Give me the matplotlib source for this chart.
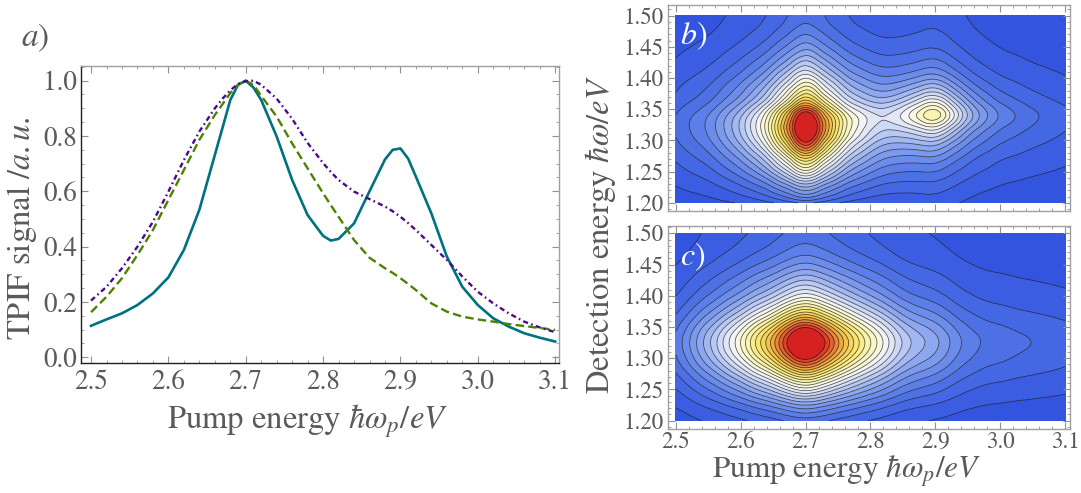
import numpy as np
import matplotlib
matplotlib.use("Agg")
import matplotlib.pyplot as plt
import matplotlib.tri as mtri
from matplotlib.colors import LinearSegmentedColormap
from matplotlib.ticker import MultipleLocator

plt.rcParams['font.family'] = ['STIXGeneral', 'DejaVu Serif']
plt.rcParams['mathtext.fontset'] = 'stix'

# ---------------- panel a: TPIF spectra ----------------
pump = [2.50, 2.52, 2.54, 2.56, 2.58, 2.60, 2.62, 2.64, 2.66, 2.67, 2.68, 2.69,
        2.70, 2.71, 2.72, 2.74, 2.76, 2.78, 2.80, 2.81, 2.82, 2.84, 2.86, 2.88,
        2.89, 2.90, 2.91, 2.92, 2.94, 2.96, 2.98, 3.00, 3.02, 3.04, 3.06, 3.08, 3.10]
tpif_solid = [0.114, 0.137, 0.159, 0.189, 0.231, 0.289, 0.388, 0.533, 0.731, 0.830, 0.930, 0.985,
              1.000, 0.975, 0.930, 0.798, 0.641, 0.514, 0.439, 0.422, 0.428, 0.484, 0.600, 0.715,
              0.750, 0.755, 0.718, 0.653, 0.520, 0.364, 0.255, 0.189, 0.141, 0.111, 0.087, 0.071, 0.057]
tpif_dashed = [0.163, 0.219, 0.286, 0.370, 0.460, 0.569, 0.677, 0.786, 0.876, 0.915, 0.955, 0.985,
               1.000, 0.985, 0.945, 0.870, 0.773, 0.683, 0.593, 0.550, 0.508, 0.424, 0.360, 0.322,
               0.305, 0.286, 0.265, 0.243, 0.195, 0.165, 0.147, 0.137, 0.129, 0.120, 0.113, 0.106, 0.099]
tpif_dashdot = [0.205, 0.255, 0.322, 0.400, 0.490, 0.599, 0.713, 0.816, 0.900, 0.935, 0.965, 0.988,
                0.998, 1.000, 0.985, 0.935, 0.862, 0.775, 0.702, 0.670, 0.641, 0.599, 0.572, 0.545,
                0.528, 0.508, 0.485, 0.460, 0.406, 0.352, 0.292, 0.237, 0.195, 0.159, 0.129, 0.108, 0.091]

# ---------------- panels b, c: 2D maps (slices) ----------------
map_pump = [2.50, 2.52, 2.54, 2.56, 2.58, 2.60, 2.62, 2.64, 2.66, 2.68, 2.70, 2.72,
            2.74, 2.76, 2.78, 2.80, 2.82, 2.84, 2.86, 2.88, 2.90, 2.92, 2.94, 2.96,
            2.98, 3.00, 3.02, 3.04, 3.06, 3.08, 3.10]
map_det = [1.20, 1.22, 1.24, 1.26, 1.28, 1.30, 1.32, 1.34, 1.36, 1.38, 1.40, 1.42,
           1.44, 1.46, 1.48, 1.50]

# panel b: main peak (2.70 eV) and second peak (2.90 eV)
b_pump_main = [0.12, 0.15, 0.18, 0.225, 0.285, 0.355, 0.445, 0.56, 0.72, 0.90, 1.03, 0.90,
               0.72, 0.56, 0.445, 0.36, 0.29, 0.24, 0.20, 0.17, 0.15, 0.13, 0.115, 0.10,
               0.09, 0.08, 0.075, 0.07, 0.065, 0.06, 0.055]
b_det_main = [0.120, 0.270, 0.430, 0.600, 0.770, 0.930, 1.000, 0.930, 0.740, 0.600, 0.485, 0.375,
              0.285, 0.215, 0.165, 0.140]
b_pump_sec = [0.010, 0.012, 0.014, 0.016, 0.019, 0.022, 0.026, 0.030, 0.035, 0.040, 0.046, 0.054,
              0.065, 0.080, 0.100, 0.125, 0.170, 0.245, 0.340, 0.440, 0.490, 0.420, 0.310, 0.220,
              0.160, 0.120, 0.095, 0.075, 0.060, 0.050, 0.040]
b_det_sec = [0.08, 0.10, 0.14, 0.20, 0.30, 0.46, 0.72, 0.99, 0.85, 0.60, 0.40, 0.27,
             0.19, 0.14, 0.11, 0.09]

# panel c: single peak
c_pump = [0.17, 0.235, 0.31, 0.385, 0.47, 0.56, 0.665, 0.765, 0.885, 1.01, 1.07, 1.01,
          0.90, 0.79, 0.69, 0.60, 0.515, 0.43, 0.365, 0.325, 0.29, 0.245, 0.20, 0.17,
          0.15, 0.14, 0.13, 0.122, 0.115, 0.108, 0.10]
c_det = [0.13, 0.23, 0.38, 0.55, 0.74, 0.91, 1.00, 0.96, 0.80, 0.62, 0.47, 0.36,
         0.27, 0.20, 0.155, 0.13]

# ---------------- styling ----------------
GRAY_TXT = '#5a5a5a'
TEAL = '#00717e'
GREEN = '#4b8200'
PURPLE = '#4a0a8a'

temp_cmap = LinearSegmentedColormap.from_list('tempmap', [
    (0.00, (0.18, 0.31, 0.87)),
    (0.15, (0.31, 0.45, 0.90)),
    (0.30, (0.54, 0.65, 0.94)),
    (0.42, (0.79, 0.84, 0.97)),
    (0.52, (0.97, 0.97, 0.97)),
    (0.62, (0.98, 0.96, 0.72)),
    (0.72, (0.97, 0.90, 0.42)),
    (0.82, (0.94, 0.72, 0.26)),
    (0.90, (0.90, 0.46, 0.20)),
    (1.00, (0.84, 0.13, 0.13)),
])

W, H = 1081, 493
fig = plt.figure(figsize=(W / 100, H / 100), dpi=100)


def frac_rect(x0, y0, x1, y1):
    return [x0 / W, 1 - y1 / H, (x1 - x0) / W, (y1 - y0) / H]


def style_frame(ax, dark_lb=False):
    for side in ['top', 'right', 'left', 'bottom']:
        ax.spines[side].set_color('#a0a0a0')
        ax.spines[side].set_linewidth(1.0)
    if dark_lb:
        ax.spines['left'].set_color('#202020')
        ax.spines['bottom'].set_color('#202020')
    ax.tick_params(which='both', direction='in', top=True, right=True,
                   color='#909090', labelcolor=GRAY_TXT)
    ax.tick_params(which='major', length=5, width=0.8)
    ax.tick_params(which='minor', length=2.5, width=0.6)


# ---------------- panel a ----------------
ax_a = fig.add_axes(frac_rect(81, 66, 559, 362.7))
ax_a.plot(pump, tpif_solid, color=TEAL, lw=1.9, solid_joinstyle='round')
ax_a.plot(pump, tpif_dashed, color=GREEN, lw=1.7, ls=(0, (3.6, 1.8)))
ax_a.plot(pump, tpif_dashdot, color=PURPLE, lw=1.7, ls=(0, (2.2, 1.4, 0.7, 1.4)))
ax_a.set_xlim(2.487, 3.105)
ax_a.set_ylim(-0.0195, 1.053)
ax_a.xaxis.set_minor_locator(MultipleLocator(0.02))
ax_a.yaxis.set_minor_locator(MultipleLocator(0.05))
ax_a.set_xticks([2.5, 2.6, 2.7, 2.8, 2.9, 3.0, 3.1])
ax_a.set_xticklabels(['2.5', '2.6', '2.7', '2.8', '2.9', '3.0', '3.1'])
ax_a.set_yticks([0.0, 0.2, 0.4, 0.6, 0.8, 1.0])
ax_a.set_yticklabels(['0.0', '0.2', '0.4', '0.6', '0.8', '1.0'])
style_frame(ax_a, dark_lb=True)
ax_a.tick_params(axis='both', which='major', labelsize=19.5)
ax_a.tick_params(axis='x', pad=5)
ax_a.tick_params(axis='y', pad=3)

fig.text(307 / W, 1 - 428 / H, r'Pump energy $\hbar\omega_p/eV$', ha='center', va='baseline',
         fontsize=23.5, color=GRAY_TXT)
fig.text(22 / W, 1 - 228 / H, r'TPIF signal $/a.u.$', ha='center', va='center',
         rotation=90, fontsize=23.5, color=GRAY_TXT)
fig.text(35 / W, 1 - 38 / H, r'$a)$', ha='center', va='center', fontsize=24, color=GRAY_TXT)

# ---------------- panels b, c ----------------
levels = [-1.0] + [round(0.04 * k, 2) for k in range(1, 25)] + [5.0]
band_mid = []
for i in range(len(levels) - 1):
    lo = max(levels[i], 0.0)
    hi = min(levels[i + 1], 1.0)
    band_mid.append((lo + hi) / 2)
band_mid[-1] = 1.0
band_colors = [temp_cmap(m / 0.98) for m in band_mid]

PX, DY = np.meshgrid(map_pump, map_det)
tri = mtri.Triangulation(PX.ravel(), DY.ravel())
refiner = mtri.UniformTriRefiner(tri)

Zb = np.outer(b_det_main, b_pump_main) + np.outer(b_det_sec, b_pump_sec)
Zc = np.outer(c_det, c_pump)


def draw_map(ax, Z, label):
    tri_f, z_f = refiner.refine_field(Z.ravel(), subdiv=3)
    ax.tricontourf(tri_f, z_f, levels=levels, colors=band_colors)
    ax.tricontour(tri_f, z_f, levels=levels[1:-1], colors='#1a1a1a', linewidths=0.55, alpha=0.75)
    ax.set_xlim(2.4877, 3.1077)
    ax.xaxis.set_major_locator(MultipleLocator(0.1))
    ax.xaxis.set_minor_locator(MultipleLocator(0.02))
    ax.set_yticks([1.20, 1.25, 1.30, 1.35, 1.40, 1.45, 1.50])
    ax.set_yticklabels(['1.20', '1.25', '1.30', '1.35', '1.40', '1.45', '1.50'])
    ax.yaxis.set_minor_locator(MultipleLocator(0.01))
    style_frame(ax)
    ax.tick_params(axis='both', which='major', labelsize=16.5, pad=3)
    ax.text(0.03, 0.93, label, transform=ax.transAxes, ha='left', va='top',
            fontsize=23, color='white')


ax_b = fig.add_axes(frac_rect(668, 5, 1070, 211))
draw_map(ax_b, Zb, r'$b)$')
ax_b.set_ylim(1.187, 1.517)
ax_b.tick_params(axis='x', labelbottom=False)

ax_c = fig.add_axes(frac_rect(668, 226, 1070, 428.5))
draw_map(ax_c, Zc, r'$c)$')
ax_c.set_ylim(1.1875, 1.5117)
ax_c.set_xticks([2.5, 2.6, 2.7, 2.8, 2.9, 3.0, 3.1])
ax_c.set_xticklabels(['2.5', '2.6', '2.7', '2.8', '2.9', '3.0', '3.1'])
ax_c.tick_params(axis='x', pad=2)

fig.text(847 / W, 1 - 479 / H, r'Pump energy $\hbar\omega_p/eV$', ha='center', va='baseline',
         fontsize=22.5, color=GRAY_TXT)
fig.text(600 / W, 1 - 235 / H, r'Detection energy $\hbar\omega/eV$', ha='center', va='center',
         rotation=90, fontsize=23.5, color=GRAY_TXT)

fig.savefig('out.png', dpi=100)
